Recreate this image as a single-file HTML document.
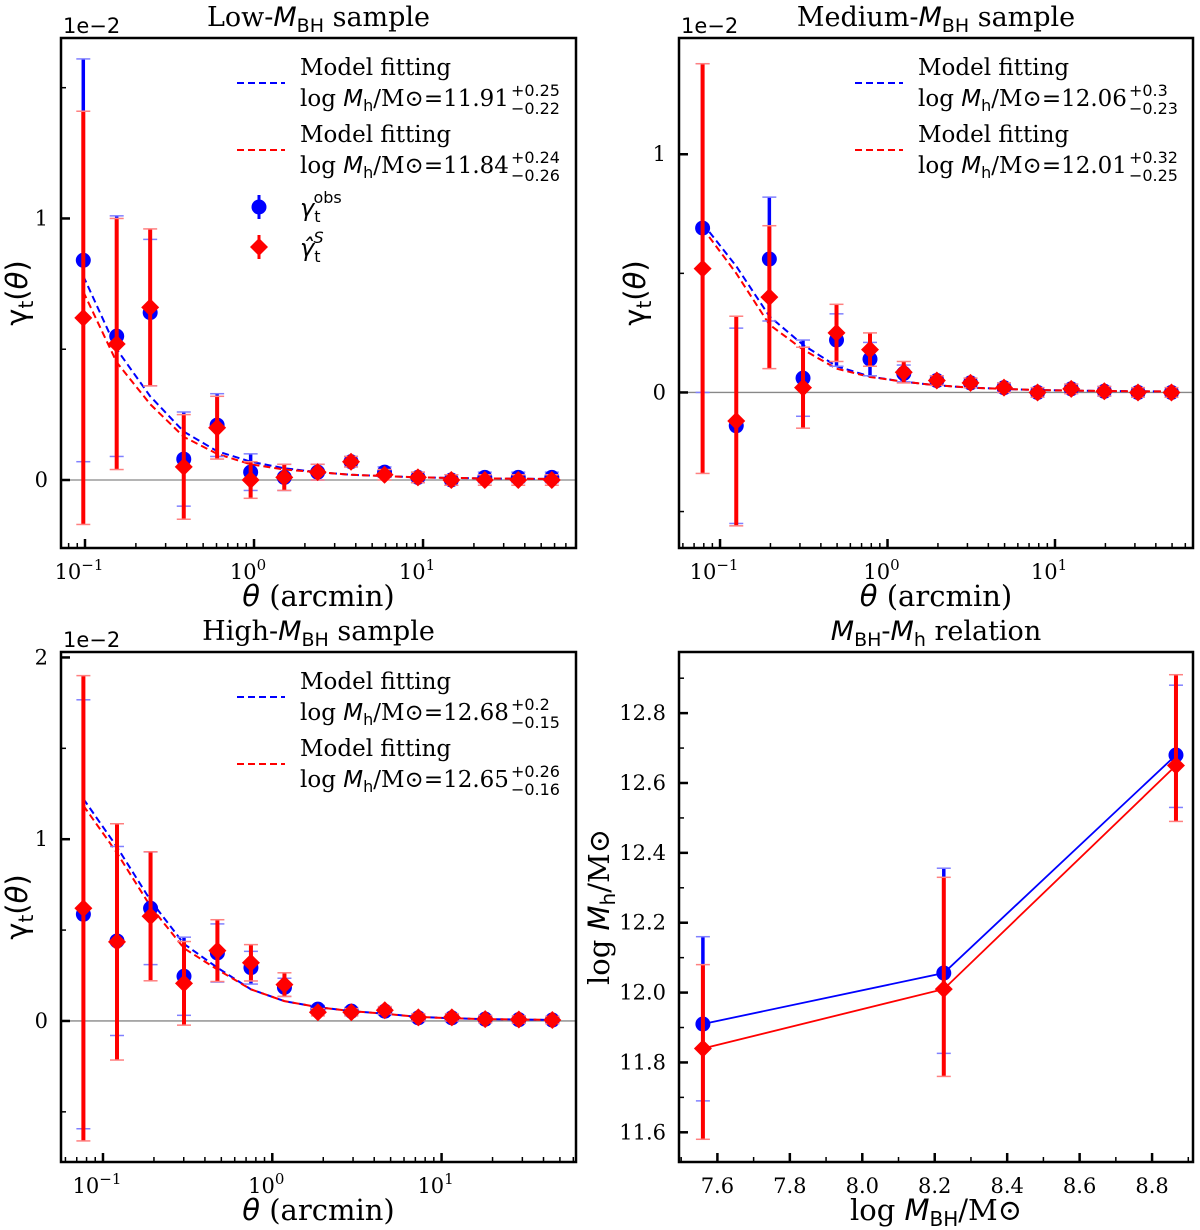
<!DOCTYPE html>
<html><head><meta charset="utf-8">
<style>
html,body{margin:0;padding:0;background:#fff;}
svg{display:block;}
text{font-family:"DejaVu Serif","Liberation Serif",serif;fill:#000;}
.sans{font-family:"DejaVu Sans","Liberation Sans",sans-serif;}
</style></head>
<body>
<svg id="fig" width="1200" height="1230" viewBox="0 0 1200 1230" xmlns="http://www.w3.org/2000/svg"></svg>
<script>
// ---------- data ----------
const p1Theta=[0.0977,0.154,0.243,0.384,0.605,0.955,1.51,2.38,3.75,5.92,9.33,14.7,23.2,36.6,57.8];
const p1Obs=[0.84,0.55,0.64,0.08,0.21,0.03,0.01,0.03,0.07,0.03,0.01,0.00,0.01,0.01,0.01];
const p1ObsErr=[0.77,0.46,0.28,0.18,0.12,0.07,0.05,0.03,0.02,0.02,0.02,0.02,0.02,0.02,0.02];
const p1Sim=[0.62,0.52,0.66,0.05,0.20,0.00,0.01,0.03,0.07,0.02,0.01,0.00,0.00,0.00,0.00];
const p1SimErr=[0.79,0.48,0.30,0.20,0.12,0.07,0.05,0.03,0.02,0.02,0.02,0.02,0.02,0.02,0.02];
const p1ModelObs=[0.78,0.50,0.32,0.185,0.11,0.07,0.045,0.03,0.02,0.015,0.01,0.008,0.006,0.005,0.004];
const p1ModelSim=[0.72,0.45,0.29,0.165,0.10,0.06,0.04,0.03,0.02,0.015,0.01,0.008,0.006,0.005,0.004];

const p2Theta=[0.0787,0.125,0.197,0.313,0.496,0.786,1.25,1.97,3.13,4.96,7.87,12.5,19.7,31.3,49.6];
const p2Obs=[0.69,-0.14,0.56,0.06,0.22,0.14,0.08,0.05,0.04,0.02,0.00,0.015,0.005,0.00,0.00];
const p2ObsErr=[0.69,0.41,0.26,0.16,0.11,0.07,0.035,0.02,0.02,0.02,0.02,0.02,0.02,0.02,0.02];
const p2Sim=[0.52,-0.12,0.40,0.02,0.25,0.18,0.085,0.05,0.04,0.02,0.00,0.015,0.005,0.00,0.00];
const p2SimErr=[0.86,0.44,0.30,0.17,0.12,0.07,0.045,0.02,0.02,0.02,0.02,0.02,0.02,0.02,0.02];
const p2ModelObs=[0.71,0.53,0.32,0.20,0.11,0.067,0.045,0.03,0.02,0.015,0.01,0.008,0.006,0.005,0.004];
const p2ModelSim=[0.69,0.50,0.285,0.18,0.10,0.065,0.045,0.03,0.02,0.015,0.01,0.008,0.006,0.005,0.004];

const p3Theta=[0.0766,0.121,0.191,0.301,0.474,0.748,1.18,1.86,2.93,4.62,7.29,11.5,18.1,28.6,45.1];
const p3Obs=[0.587,0.44,0.62,0.246,0.374,0.293,0.185,0.065,0.054,0.054,0.017,0.017,0.01,0.007,0.005];
const p3ObsErr=[1.18,0.52,0.31,0.215,0.16,0.09,0.05,0.02,0.02,0.02,0.02,0.02,0.02,0.02,0.02];
const p3Sim=[0.62,0.435,0.576,0.207,0.387,0.32,0.20,0.048,0.048,0.059,0.02,0.02,0.01,0.008,0.005];
const p3SimErr=[1.28,0.65,0.355,0.23,0.17,0.10,0.065,0.02,0.02,0.02,0.02,0.02,0.02,0.02,0.02];
const p3ModelObs=[1.222,0.957,0.663,0.424,0.293,0.174,0.109,0.076,0.054,0.04,0.022,0.015,0.01,0.008,0.006];
const p3ModelSim=[1.185,0.924,0.63,0.40,0.283,0.174,0.109,0.076,0.054,0.04,0.022,0.015,0.01,0.008,0.006];

const mbh=[7.56,8.225,8.866];
const mhObs=[11.91,12.056,12.68];
const mhObsUp=[0.25,0.30,0.20];
const mhObsLo=[0.22,0.23,0.15];
const mhSim=[11.84,12.01,12.65];
const mhSimUp=[0.24,0.32,0.26];
const mhSimLo=[0.26,0.25,0.16];
const relXTicks=[7.6,7.8,8.0,8.2,8.4,8.6,8.8];
const relYTicks=[11.6,11.8,12.0,12.2,12.4,12.6,12.8];

const legendVals=[["11.91","+0.25","\u22120.22","11.84","+0.24","\u22120.26"],
                  ["12.06","+0.3","\u22120.23","12.01","+0.32","\u22120.25"],
                  ["12.68","+0.2","\u22120.15","12.65","+0.26","\u22120.16"]];

// ---------- helpers ----------
const NS="http://www.w3.org/2000/svg";
const svg=document.getElementById('fig');
function el(tag,attrs,parent){const e=document.createElementNS(NS,tag);for(const k in attrs)e.setAttribute(k,attrs[k]);(parent||svg).appendChild(e);return e;}
const BLUE="#0000ff",RED="#ff0000";
const TICKFS=21;

function diamond(g,x,y,r,fill){return el('polygon',{points:`${x},${y-r} ${x+r},${y} ${x},${y+r} ${x-r},${y}`,fill:fill},g);}

function logPanel(cfg){
  const g=el('g',{});
  
  
  const {L,R,T,B,lx0,lx1,y0,y1}=cfg;
  const X=v=>L+(Math.log10(v)-lx0)/(lx1-lx0)*(R-L);
  const Y=v=>B-(v-y0)/(y1-y0)*(B-T);
  const zl=el('line',{x1:L,x2:R,y1:Y(0),y2:Y(0),stroke:"#888",'stroke-width':1.3},g);
  
  
  [[cfg.mObs,BLUE,'model-obs-line'],[cfg.mSim,RED,'model-sim-line']].forEach(([arr,c,n])=>{
    const pts=cfg.theta.map((t,i)=>X(t)+','+Y(arr[i])).join(' ');
    const pl=el('polyline',{points:pts,fill:'none',stroke:c,'stroke-width':2,'stroke-dasharray':'7,4'},g);
    
    
  });
  cfg.theta.forEach((t,i)=>{
    const x=X(t);
    const e1=el('line',{x1:x,x2:x,y1:Y(cfg.obs[i]-cfg.obsErr[i]),y2:Y(cfg.obs[i]+cfg.obsErr[i]),stroke:BLUE,'stroke-width':3.5},g);
    
    
    [cfg.obs[i]-cfg.obsErr[i],cfg.obs[i]+cfg.obsErr[i]].forEach(v=>el('line',{x1:x-7,x2:x+7,y1:Y(v),y2:Y(v),stroke:'#8080ff','stroke-width':1.5},g));
    const c=el('circle',{cx:x,cy:Y(cfg.obs[i]),r:7.5,fill:BLUE},g);
    
    
  });
  cfg.theta.forEach((t,i)=>{
    const x=X(t);
    const e2=el('line',{x1:x,x2:x,y1:Y(cfg.sim[i]-cfg.simErr[i]),y2:Y(cfg.sim[i]+cfg.simErr[i]),stroke:RED,'stroke-width':4},g);
    
    
    [cfg.sim[i]-cfg.simErr[i],cfg.sim[i]+cfg.simErr[i]].forEach(v=>el('line',{x1:x-7,x2:x+7,y1:Y(v),y2:Y(v),stroke:'#ff8080','stroke-width':1.5},g));
    const d=diamond(g,x,Y(cfg.sim[i]),9,RED);
    
    
  });
  el('rect',{x:L,y:T,width:R-L,height:B-T,fill:'none',stroke:'#000','stroke-width':2.5},g);
  for(let d=Math.floor(lx0);d<=Math.ceil(lx1);d++){
    for(let m=1;m<10;m++){
      const v=m*Math.pow(10,d);const lv=Math.log10(v);
      if(lv<lx0||lv>lx1)continue;
      const x=X(v);const len=m===1?9:5;
      el('line',{x1:x,x2:x,y1:B,y2:B-len,stroke:'#000','stroke-width':m===1?2.5:1.5},g);
      if(m===1){
        const tx=el('text',{x:x-6,y:B+31,'font-size':TICKFS,'text-anchor':'middle'},g);
        
        
        tx.innerHTML=`10<tspan dy="-9" font-size="15">${d<0?'\u2212'+(-d):d}</tspan>`;
      }
    }
  }
  cfg.yMajor.forEach(v=>{
    el('line',{x1:L,x2:L+9,y1:Y(v),y2:Y(v),stroke:'#000','stroke-width':2.5},g);
    const tl=el('text',{x:L-13,y:Y(v)+7,'font-size':TICKFS,'text-anchor':'end'},g);
    tl.textContent=v;
    
    
  });
  cfg.yMinor.forEach(v=>el('line',{x1:L,x2:L+5,y1:Y(v),y2:Y(v),stroke:'#000','stroke-width':1.5},g));
  const off=el('text',{x:L+2,y:T-5,'font-size':21,class:'sans'},g);
  off.textContent='1e\u22122';
  
  
  const tt=el('text',{x:(L+R)/2,y:T-12,'font-size':27,'text-anchor':'middle'},g);
  tt.innerHTML=`${cfg.titlePre}-<tspan class="sans" font-style="italic">M</tspan><tspan class="sans" font-size="19" dy="6">BH</tspan><tspan dy="-6"> sample</tspan>`;
  
  
  const xl=el('text',{x:(L+R)/2,y:B+58,'font-size':29,'text-anchor':'middle'},g);
  xl.innerHTML=`<tspan class="sans" font-style="italic">θ</tspan> (arcmin)`;
  
  
  const yx=L-34,yy=(T+B)/2;
  const yl=el('text',{x:yx,y:yy,'font-size':29,'text-anchor':'middle',class:'sans',transform:`rotate(-90 ${yx} ${yy})`},g);
  yl.innerHTML=`γ<tspan font-size="20" dy="6">t</tspan><tspan dy="-6">(</tspan><tspan font-style="italic">θ</tspan>)`;
  
  
  const lv=cfg.legend, lxl=cfg.legX, ly=T;
  [[BLUE,0,lv[0],lv[1],lv[2],'legend-model-obs'],[RED,67,lv[3],lv[4],lv[5],'legend-model-sim']].forEach(([c,dy,v,p,m,n])=>{
    const lg=el('g',{},g);
    
    
    el('line',{x1:lxl,x2:lxl+48,y1:ly+45+dy,y2:ly+45+dy,stroke:c,'stroke-width':2,'stroke-dasharray':'7,4'},lg);
    const t1=el('text',{x:lxl+63,y:ly+37+dy,'font-size':23},lg);t1.textContent='Model fitting';
    const t2=el('text',{x:lxl+63,y:ly+68+dy,'font-size':23},lg);
    t2.innerHTML=`log <tspan class="sans" font-style="italic">M</tspan><tspan class="sans" font-size="16" dy="5">h</tspan><tspan dy="-5">/M⊙=${v}</tspan>`;
    const w=t2.getComputedTextLength();
    const sp=el('text',{x:lxl+63+w+2,y:ly+58+dy,'font-size':16,class:'sans'},lg);sp.textContent=p;
    const sb=el('text',{x:lxl+63+w+2,y:ly+76+dy,'font-size':16,class:'sans'},lg);sb.textContent=m;
  });
  if(cfg.markerLegend){
    const mg=el('g',{},g);
    
    
    const mx=lxl+22;
    el('line',{x1:mx,x2:mx,y1:ly+157,y2:ly+181,stroke:BLUE,'stroke-width':3},mg);
    el('circle',{cx:mx,cy:ly+169,r:7.5,fill:BLUE},mg);
    const o=el('text',{x:lxl+63,y:ly+178,'font-size':24,class:'sans'},mg);
    o.innerHTML=`<tspan font-style="italic">γ</tspan><tspan font-size="16" dy="6">t</tspan><tspan font-size="16" dx="-7" dy="-19">obs</tspan>`;
    el('line',{x1:mx,x2:mx,y1:ly+197,y2:ly+221,stroke:RED,'stroke-width':3},mg);
    diamond(mg,mx,ly+209,9,RED);
    const s=el('text',{x:lxl+63,y:ly+218,'font-size':24,class:'sans'},mg);
    s.innerHTML=`<tspan font-style="italic">γ̂</tspan><tspan font-size="16" dy="6">t</tspan><tspan font-size="16" font-style="italic" dx="-7" dy="-19">S</tspan>`;
  }
}

logPanel({name:'low-mbh-panel',L:61,R:576,T:38,B:548,lx0:-1.142,lx1:1.905,y0:-0.26,y1:1.69,
  theta:p1Theta,obs:p1Obs,obsErr:p1ObsErr,sim:p1Sim,simErr:p1SimErr,mObs:p1ModelObs,mSim:p1ModelSim,
  yMajor:[0,1],yMinor:[0.5,1.5],titlePre:'Low',legend:legendVals[0],legX:237,markerLegend:true});
logPanel({name:'medium-mbh-panel',L:679,R:1193,T:38,B:548,lx0:-1.245,lx1:1.824,y0:-0.653,y1:1.488,
  theta:p2Theta,obs:p2Obs,obsErr:p2ObsErr,sim:p2Sim,simErr:p2SimErr,mObs:p2ModelObs,mSim:p2ModelSim,
  yMajor:[0,1],yMinor:[0.5,-0.5],titlePre:'Medium',legend:legendVals[1],legX:855,markerLegend:false});
logPanel({name:'high-mbh-panel',L:61,R:576,T:652,B:1162,lx0:-1.248,lx1:1.794,y0:-0.776,y1:2.03,
  theta:p3Theta,obs:p3Obs,obsErr:p3ObsErr,sim:p3Sim,simErr:p3SimErr,mObs:p3ModelObs,mSim:p3ModelSim,
  yMajor:[0,1,2],yMinor:[0.5,1.5,-0.5],titlePre:'High',legend:legendVals[2],legX:237,markerLegend:false});

(function(){
  const g=el('g',{});
  
  
  const L=679,R=1193,T=652,B=1162,x0=7.494,x1=8.913,y0=11.515,y1=12.975;
  const X=v=>L+(v-x0)/(x1-x0)*(R-L);
  const Y=v=>B-(v-y0)/(y1-y0)*(B-T);
  const lb=el('polyline',{points:mbh.map((m,i)=>X(m)+','+Y(mhObs[i])).join(' '),fill:'none',stroke:BLUE,'stroke-width':1.8},g);
  
  
  const lr=el('polyline',{points:mbh.map((m,i)=>X(m)+','+Y(mhSim[i])).join(' '),fill:'none',stroke:RED,'stroke-width':1.8},g);
  
  
  mbh.forEach((m,i)=>{
    const x=X(m);
    const e=el('line',{x1:x,x2:x,y1:Y(mhObs[i]-mhObsLo[i]),y2:Y(mhObs[i]+mhObsUp[i]),stroke:BLUE,'stroke-width':3.5},g);
    
    
    [mhObs[i]-mhObsLo[i],mhObs[i]+mhObsUp[i]].forEach(v=>el('line',{x1:x-7,x2:x+7,y1:Y(v),y2:Y(v),stroke:'#8080ff','stroke-width':1.5},g));
    const c=el('circle',{cx:x,cy:Y(mhObs[i]),r:7.5,fill:BLUE},g);
    
    
  });
  mbh.forEach((m,i)=>{
    const x=X(m);
    const e=el('line',{x1:x,x2:x,y1:Y(mhSim[i]-mhSimLo[i]),y2:Y(mhSim[i]+mhSimUp[i]),stroke:RED,'stroke-width':4},g);
    
    
    [mhSim[i]-mhSimLo[i],mhSim[i]+mhSimUp[i]].forEach(v=>el('line',{x1:x-7,x2:x+7,y1:Y(v),y2:Y(v),stroke:'#ff8080','stroke-width':1.5},g));
    const d=diamond(g,x,Y(mhSim[i]),9,RED);
    
    
  });
  el('rect',{x:L,y:T,width:R-L,height:B-T,fill:'none',stroke:'#000','stroke-width':2.5},g);
  relXTicks.forEach(v=>{
    const x=X(v);
    el('line',{x1:x,x2:x,y1:B,y2:B-9,stroke:'#000','stroke-width':2.5},g);
    el('line',{x1:X(v+0.1),x2:X(v+0.1),y1:B,y2:B-5,stroke:'#000','stroke-width':1.5},g);
    const t=el('text',{x:x,y:B+31,'font-size':TICKFS,'text-anchor':'middle'},g);
    t.textContent=v.toFixed(1);
    
    
  });
  el('line',{x1:X(7.5),x2:X(7.5),y1:B,y2:B-5,stroke:'#000','stroke-width':1.5},g);
  relYTicks.forEach(v=>{
    const y=Y(v);
    el('line',{x1:L,x2:L+9,y1:y,y2:y,stroke:'#000','stroke-width':2.5},g);
    el('line',{x1:L,x2:L+5,y1:Y(v+0.1),y2:Y(v+0.1),stroke:'#000','stroke-width':1.5},g);
    const t=el('text',{x:L-13,y:y+7,'font-size':TICKFS,'text-anchor':'end'},g);
    t.textContent=v.toFixed(1);
    
    
  });
  const tt=el('text',{x:(L+R)/2,y:T-12,'font-size':27,'text-anchor':'middle'},g);
  tt.innerHTML=`<tspan class="sans" font-style="italic">M</tspan><tspan class="sans" font-size="19" dy="6">BH</tspan><tspan dy="-6">-</tspan><tspan class="sans" font-style="italic">M</tspan><tspan class="sans" font-size="19" dy="6">h</tspan><tspan dy="-6"> relation</tspan>`;
  
  
  const xl=el('text',{x:(L+R)/2,y:B+58,'font-size':29,'text-anchor':'middle'},g);
  xl.innerHTML=`log <tspan class="sans" font-style="italic">M</tspan><tspan class="sans" font-size="20" dy="6">BH</tspan><tspan dy="-6">/M⊙</tspan>`;
  
  
  const yx=L-70,yy=(T+B)/2;
  const yl=el('text',{x:yx,y:yy,'font-size':29,'text-anchor':'middle',transform:`rotate(-90 ${yx} ${yy})`},g);
  yl.innerHTML=`log <tspan class="sans" font-style="italic">M</tspan><tspan class="sans" font-size="20" dy="6">h</tspan><tspan dy="-6">/M⊙</tspan>`;
  
  
})();
</script>
</body></html>
